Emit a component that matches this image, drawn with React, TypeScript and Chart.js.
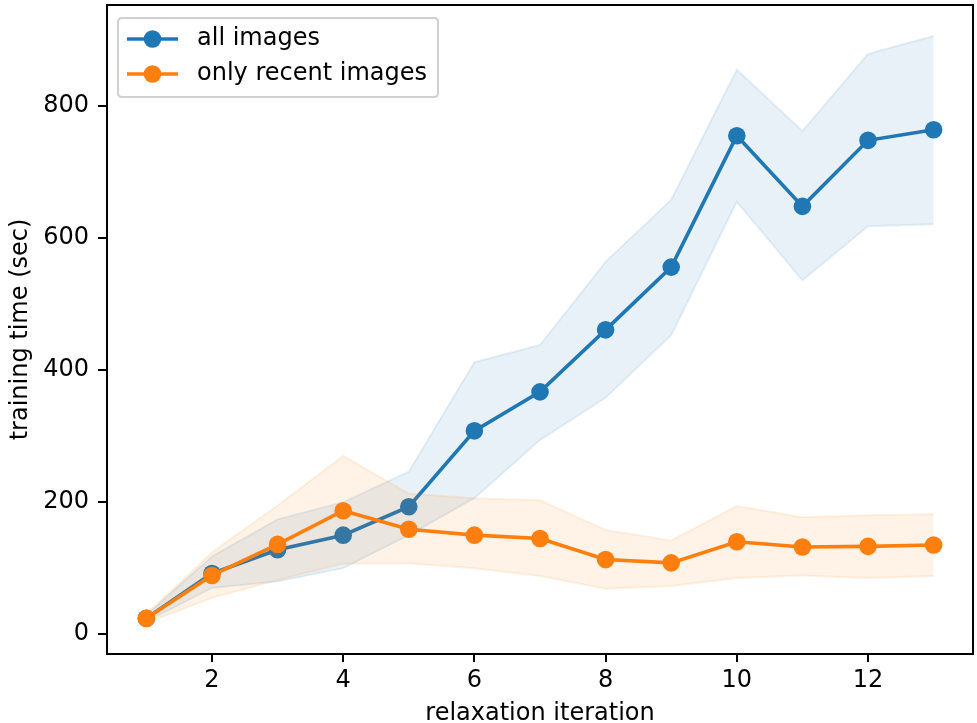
import React, { useEffect, useRef } from "react";
import { Chart, registerables } from "chart.js";

Chart.register(...registerables);

const ITERATIONS = [1, 2, 3, 4, 5, 6, 7, 8, 9, 10, 11, 12, 13];
const ALL_MEAN = [24, 92, 128, 150, 193, 308, 367, 461, 556, 755, 648, 748, 764];
const ALL_UPPER = [29, 118, 174, 200, 246, 412, 438, 564, 658, 855, 762, 879, 906];
const ALL_LOWER = [19, 70, 80, 100, 150, 206, 294, 358, 453, 655, 536, 618, 621];
const RECENT_MEAN = [24, 89, 136, 187, 159, 150, 145, 113, 108, 140, 132, 133, 135];
const RECENT_UPPER = [30, 124, 195, 270, 213, 206, 203, 158, 142, 194, 177, 180, 182];
const RECENT_LOWER = [17, 55, 82, 107, 107, 100, 88, 69, 73, 85, 89, 85, 88];
const X_TICKS = [2, 4, 6, 8, 10, 12];
const Y_TICKS = [0, 200, 400, 600, 800];
const SERIES_LABELS = ["all images", "only recent images"];
const X_TITLE = "relaxation iteration";
const Y_TITLE = "training time (sec)";

const BLUE = "#1f77b4";
const ORANGE = "#ff7f0e";
const FONT = "'DejaVu Sans', sans-serif";
const FS = 24;

const pts = (ys: number[]) => ITERATIONS.map((x, i) => ({ x, y: ys[i] }));

const framePlugin = {
  id: "frame",
  afterDatasetsDraw(chart: any) {
    const { ctx, chartArea: a } = chart;
    ctx.save();
    ctx.strokeStyle = "#000";
    ctx.lineWidth = 2;
    ctx.strokeRect(a.left, a.top, a.right - a.left, a.bottom - a.top);
    ctx.restore();
  },
};

const legendPlugin = {
  id: "customLegend",
  afterDraw(chart: any) {
    const { ctx, chartArea: a } = chart;
    const x0 = a.left + 11;
    const y0 = a.top + 13;
    const w = 320;
    const h = 79;
    ctx.save();
    ctx.beginPath();
    const r = 4;
    ctx.moveTo(x0 + r, y0);
    ctx.lineTo(x0 + w - r, y0);
    ctx.quadraticCurveTo(x0 + w, y0, x0 + w, y0 + r);
    ctx.lineTo(x0 + w, y0 + h - r);
    ctx.quadraticCurveTo(x0 + w, y0 + h, x0 + w - r, y0 + h);
    ctx.lineTo(x0 + r, y0 + h);
    ctx.quadraticCurveTo(x0, y0 + h, x0, y0 + h - r);
    ctx.lineTo(x0, y0 + r);
    ctx.quadraticCurveTo(x0, y0, x0 + r, y0);
    ctx.closePath();
    ctx.fillStyle = "rgba(255,255,255,0.8)";
    ctx.fill();
    ctx.strokeStyle = "#d0d0d0";
    ctx.lineWidth = 2;
    ctx.stroke();
    const colors = [BLUE, ORANGE];
    SERIES_LABELS.forEach((label, i) => {
      const cy = y0 + 21 + i * 35;
      ctx.strokeStyle = colors[i];
      ctx.lineWidth = 3.6;
      ctx.beginPath();
      ctx.moveTo(x0 + 9, cy);
      ctx.lineTo(x0 + 60, cy);
      ctx.stroke();
      ctx.fillStyle = colors[i];
      ctx.beginPath();
      ctx.arc(x0 + 34.5, cy, 8.8, 0, Math.PI * 2);
      ctx.fill();
      ctx.fillStyle = "#000";
      ctx.font = `${FS}px ${FONT}`;
      ctx.textBaseline = "middle";
      ctx.textAlign = "left";
      ctx.fillText(label, x0 + 79, cy);
    });
    ctx.restore();
  },
};

export default function App() {
  const ref = useRef<HTMLCanvasElement | null>(null);
  useEffect(() => {
    document.body.style.margin = "0";
    const band = (data: number[], color: string, fill: any, order: number) => ({
      data: pts(data),
      borderColor: color,
      borderWidth: 2,
      backgroundColor: color,
      pointRadius: 0,
      pointHoverRadius: 0,
      fill,
      order,
      tension: 0,
    });
    const line = (data: number[], color: string, order: number) => ({
      data: pts(data),
      borderColor: color,
      backgroundColor: color,
      borderWidth: 3.6,
      pointRadius: 8.8,
      pointBorderWidth: 0,
      pointBackgroundColor: color,
      fill: false,
      order,
      tension: 0,
    });
    const chart = new Chart(ref.current!, {
      type: "line",
      data: {
        datasets: [
          band(ALL_LOWER, "rgba(31,119,180,0.1)", false, 5),
          band(ALL_UPPER, "rgba(31,119,180,0.1)", "-1", 4),
          line(ALL_MEAN, BLUE, 3),
          band(RECENT_LOWER, "rgba(255,127,14,0.1)", false, 2),
          band(RECENT_UPPER, "rgba(255,127,14,0.1)", "-1", 1),
          line(RECENT_MEAN, ORANGE, 0),
        ] as any,
      },
      options: {
        animation: false,
        responsive: false,
        layout: { autoPadding: false, padding: { top: 5, right: 4, left: 0, bottom: 0 } },
        plugins: { legend: { display: false }, tooltip: { enabled: false } },
        scales: {
          x: {
            type: "linear",
            min: 0.4,
            max: 13.6,
            afterBuildTicks: (s: any) => {
              s.ticks = X_TICKS.map((v) => ({ value: v }));
            },
            afterFit: (s: any) => {
              s.height = 69;
              s.paddingLeft = 0;
              s.paddingRight = 0;
            },
            border: { display: false },
            grid: { drawOnChartArea: false, drawTicks: true, tickLength: 8, color: "#000", lineWidth: 2 },
            ticks: { color: "#000", font: { family: FONT, size: FS }, padding: 4, maxRotation: 0, autoSkip: false },
            title: { display: true, text: X_TITLE, color: "#000", font: { family: FONT, size: FS }, padding: { top: 0, bottom: -5 } },
          },
          y: {
            type: "linear",
            min: -30,
            max: 953,
            afterBuildTicks: (s: any) => {
              s.ticks = Y_TICKS.map((v) => ({ value: v }));
            },
            afterFit: (s: any) => {
              s.width = 107;
              s.paddingTop = 0;
              s.paddingBottom = 0;
            },
            border: { display: false },
            grid: { drawOnChartArea: false, drawTicks: true, tickLength: 9, color: "#000", lineWidth: 2 },
            ticks: { color: "#000", font: { family: FONT, size: FS }, padding: 9, autoSkip: false },
            title: { display: true, text: Y_TITLE, color: "#000", font: { family: FONT, size: FS }, padding: { top: 6, bottom: 0 } },
          },
        },
      },
      plugins: [framePlugin, legendPlugin],
    });
    return () => chart.destroy();
  }, []);
  return (
    <div style={{ position: "absolute", left: 0, top: 0, width: 977, height: 723, background: "#fff" }}>
      <canvas ref={ref} width={977} height={723} style={{ width: 977, height: 723 }} />
    </div>
  );
}
